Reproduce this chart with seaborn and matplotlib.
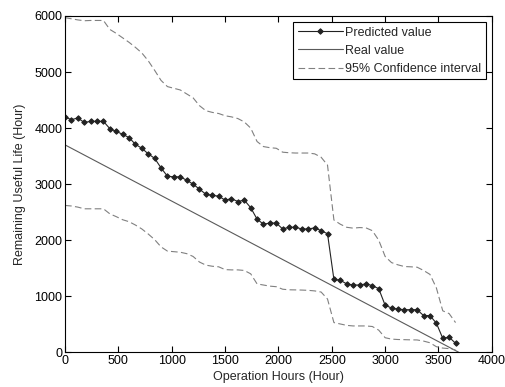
import numpy as np
import pandas as pd
import matplotlib
matplotlib.use('Agg')
import matplotlib.pyplot as plt
import seaborn as sns

sns.set_style("ticks")
plt.rcParams['font.family'] = ['Liberation Sans', 'DejaVu Sans']

# data
hours = [0, 60, 120, 180, 240, 300, 360, 420, 480, 540, 600, 660, 720, 780, 840, 900,
         960, 1020, 1080, 1140, 1200, 1260, 1320, 1380, 1440, 1500, 1560, 1620, 1680,
         1740, 1800, 1860, 1920, 1980, 2040, 2100, 2160, 2220, 2280, 2340, 2400, 2460,
         2520, 2580, 2640, 2700, 2760, 2820, 2880, 2940, 3000, 3060, 3120, 3180, 3240,
         3300, 3360, 3420, 3480, 3540, 3600, 3660]
predicted = [4200, 4150, 4180, 4100, 4120, 4120, 4120, 3990, 3940, 3890, 3830, 3710, 3640,
             3540, 3460, 3290, 3140, 3130, 3130, 3070, 3000, 2910, 2820, 2800, 2785, 2715,
             2740, 2690, 2715, 2580, 2375, 2285, 2305, 2305, 2200, 2230, 2230, 2200, 2200,
             2220, 2170, 2115, 1300, 1285, 1220, 1200, 1200, 1220, 1190, 1135, 840, 790,
             770, 760, 760, 760, 655, 655, 520, 250, 270, 160]
upper = [5970, 5950, 5930, 5915, 5920, 5920, 5920, 5760, 5690, 5610, 5530, 5440, 5340,
         5200, 5030, 4850, 4740, 4710, 4680, 4610, 4540, 4400, 4310, 4280, 4260, 4220,
         4200, 4170, 4110, 4000, 3760, 3670, 3650, 3640, 3570, 3560, 3555, 3555, 3555,
         3540, 3480, 3340, 2360, 2285, 2230, 2215, 2225, 2220, 2170, 2000, 1710, 1600,
         1560, 1530, 1525, 1518, 1460, 1390, 1150, 740, 690, 530]
lower = [2620, 2610, 2590, 2560, 2560, 2560, 2560, 2470, 2420, 2365, 2330, 2270, 2200,
         2110, 2010, 1880, 1805, 1795, 1785, 1760, 1710, 1610, 1555, 1535, 1525, 1475,
         1470, 1470, 1460, 1400, 1220, 1200, 1180, 1170, 1125, 1115, 1113, 1110, 1105,
         1095, 1075, 950, 530, 505, 480, 470, 470, 470, 460, 395, 260, 235, 228, 225,
         222, 220, 200, 170, 100, 75, 65, 40]
real_hours = [0, 3690]
real_rul = [3700, 0]

df = pd.DataFrame({'hours': hours, 'predicted': predicted, 'upper': upper, 'lower': lower})
df_real = pd.DataFrame({'hours': real_hours, 'real': real_rul})

fig = plt.figure(figsize=(5.06, 3.87), dpi=100)
ax = fig.add_axes([0.1285, 0.0897, 0.8435, 0.869])

sns.lineplot(x='hours', y='predicted', data=df, ax=ax, color='#222222', lw=0.8,
             marker='D', markersize=2.8, markeredgecolor='#222222', label='Predicted value')
sns.lineplot(x='hours', y='real', data=df_real, ax=ax, color='#5a5a5a', lw=0.8,
             label='Real value')
sns.lineplot(x='hours', y='upper', data=df, ax=ax, color='#808080', lw=0.8,
             label='95% Confidence interval')
sns.lineplot(x='hours', y='lower', data=df, ax=ax, color='#808080', lw=0.8,
             label='_nolegend_')
# dashed confidence bounds
ax.lines[-1].set_linestyle((0, (6, 3)))
ax.lines[-2].set_linestyle((0, (6, 3)))

ax.set_xlim(0, 4000)
ax.set_ylim(0, 6000)
ax.set_xticks(np.arange(0, 4001, 500))
ax.set_yticks(np.arange(0, 6001, 1000))
ax.tick_params(direction='in', top=True, right=True, length=4, width=0.8,
               labelsize=9, colors='black', pad=2)
for s in ax.spines.values():
    s.set_visible(True)
    s.set_color('black')
    s.set_linewidth(0.8)

ax.set_xlabel('Operation Hours (Hour)', fontsize=9, labelpad=3)
ax.set_ylabel('Remaining Useful Life (Hour)', fontsize=9, labelpad=6)

leg = ax.legend(loc='upper right', fontsize=9, frameon=True, fancybox=False,
                edgecolor='black', framealpha=1, handlelength=3.6, handletextpad=0.2,
                borderaxespad=0.5, labelspacing=0.5, borderpad=0.35)
leg.get_frame().set_linewidth(0.8)
for h in leg.get_lines():
    if h.get_label() == '95% Confidence interval':
        h.set_linestyle((0, (6, 3)))

fig.savefig('out.png', dpi=100)
